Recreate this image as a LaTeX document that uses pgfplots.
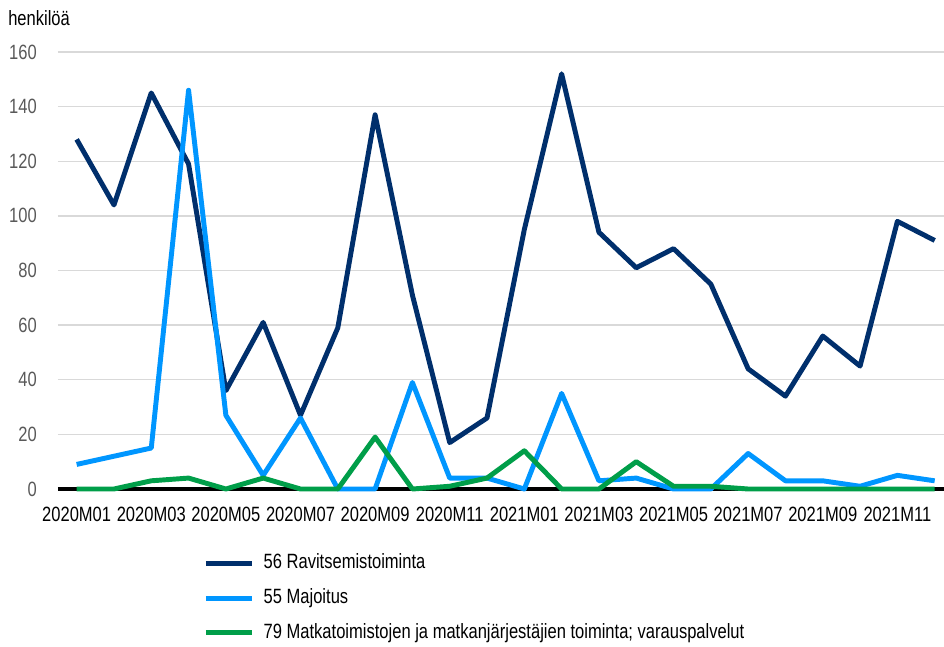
\documentclass[border=0pt]{standalone}
\usepackage{pgfplots}
\pgfplotsset{compat=1.18}
\usepackage{fontspec}
\setmainfont{Liberation Sans}[FakeStretch=0.8]
\definecolor{navy}{RGB}{0,47,108}
\definecolor{lblue}{RGB}{0,150,255}
\definecolor{grn}{RGB}{0,158,73}
\definecolor{gridg}{RGB}{217,217,217}
\definecolor{tickg}{RGB}{89,89,89}
\pgfplotstableread{
x rav maj mat
0 128 9 0
1 104 12 0
2 145 15 3
3 119 146 4
4 36 27 0
5 61 5 4
6 27 26 0
7 59 0 0
8 137 0 19
9 71 39 0
10 17 4 1
11 26 4 4
12 95 0 14
13 152 35 0
14 94 3 0
15 81 4 10
16 88 0 1
17 75 0 1
18 44 13 0
19 34 3 0
20 56 3 0
21 45 1 0
22 98 5 0
23 91 3 0
}\data
\begin{document}
\begin{tikzpicture}
\useasboundingbox (-43.5pt,-117.75pt) rectangle (664.5pt,366.75pt);
\begin{axis}[
  at={(0pt,0pt)}, anchor=south west,
  scale only axis, width=664.5pt, height=327.75pt,
  xmin=-0.5, xmax=23.25, ymin=0, ymax=160,
  clip=false,
  axis line style={draw=none},
  major tick length=0pt,
  ytick={0,20,...,160},
  xtick={0,2,...,22},
  xticklabels={2020M01,2020M03,2020M05,2020M07,2020M09,2020M11,2021M01,2021M03,2021M05,2021M07,2021M09,2021M11},
  ymajorgrids,
  grid style={gridg, line width=1.1pt},
  tick label style={font=\fontsize{15.5}{17}\selectfont},
  /pgf/number format/assume math mode=true,
  yticklabel style={anchor=east, inner sep=0pt, xshift=-15.75pt, text=tickg},
  xticklabel style={anchor=north, inner sep=0pt, yshift=-13.5pt, text=black},
  legend style={at={(axis description cs:0.1637,-0.1487)}, anchor=north west, draw=none, fill=none, inner sep=0pt,
    font=\fontsize{15.5}{17}\selectfont, row sep=12pt, column sep=7pt,
    nodes={inner sep=0pt, text height=11pt, text depth=3pt}},
  legend cell align=left,
  legend image code/.code={\draw[#1, line width=3.8pt] (0pt,0pt) -- (34.5pt,0pt);},
]
\draw[black, line width=2.6pt] (axis cs:-0.5,0) -- (axis cs:23.25,0);
\addplot[navy, line width=3.7pt, line join=round] table[x=x, y=rav] {\data};
\addlegendentry{56 Ravitsemistoiminta}
\addplot[lblue, line width=3.7pt, line join=round] table[x=x, y=maj] {\data};
\addlegendentry{55 Majoitus}
\addplot[grn, line width=3.7pt, line join=round] table[x=x, y=mat] {\data};
\addlegendentry{79 Matkatoimistojen ja matkanjärjestäjien toiminta; varauspalvelut}
\end{axis}
\node[anchor=west, inner sep=0pt, font=\fontsize{15.5}{17}\selectfont] at (-37.5pt,353.25pt) {henkilöä};
\end{tikzpicture}
\end{document}
